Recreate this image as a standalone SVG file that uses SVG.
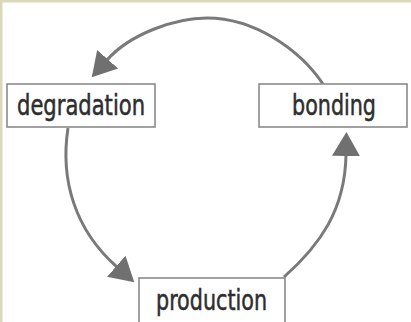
<svg xmlns="http://www.w3.org/2000/svg" width="411" height="322" viewBox="0 0 411 322">
  <style>
    .box { fill: #ffffff; stroke: #8a8a8a; stroke-width: 1.6; }
    .lbl { font-family: "DejaVu Sans", "Liberation Sans", sans-serif; font-stretch: condensed; font-size: 28px; fill: #2e2e2e; stroke: #2e2e2e; stroke-width: 0.5; }
    .arc { fill: none; stroke: #7a7a7a; stroke-width: 3; }
  </style>
  <defs>
    <marker id="head" markerUnits="userSpaceOnUse" markerWidth="26" markerHeight="30" viewBox="-1 -15 26 30" refX="0" refY="0" orient="auto">
      <path d="M-1,-14 L23,0 L-1,14 Z" fill="#707070"/>
    </marker>
  </defs>
  <rect x="0" y="0" width="411" height="322" fill="#ffffff"/>
  <rect x="0" y="0" width="411" height="2.5" fill="#d9d9b8"/>
  <rect x="0" y="0" width="2.5" height="322" fill="#d9d9b8"/>

  <g id="connectors">
    <path class="arc" d="M323,84 C300,50 255,18 207,18 C175,18 130,34 107,60" marker-end="url(#head)"/>
    <path class="arc" d="M68,128 C60,180 75,230 117,267" marker-end="url(#head)"/>
    <path class="arc" d="M284,277 C320,245 345,210 346,155" marker-end="url(#head)"/>
  </g>

  <g id="degradation">
    <rect class="box" x="7" y="84" width="148" height="43"/>
    <text class="lbl" x="17" y="115" textLength="128" lengthAdjust="spacingAndGlyphs">degradation</text>
  </g>
  <g id="bonding">
    <rect class="box" x="259" y="84" width="148" height="43"/>
    <text class="lbl" x="292" y="115" textLength="84" lengthAdjust="spacingAndGlyphs">bonding</text>
  </g>
  <g id="production">
    <rect class="box" x="139" y="278" width="146" height="60"/>
    <text class="lbl" x="156" y="310" textLength="111" lengthAdjust="spacingAndGlyphs">production</text>
  </g>
</svg>
